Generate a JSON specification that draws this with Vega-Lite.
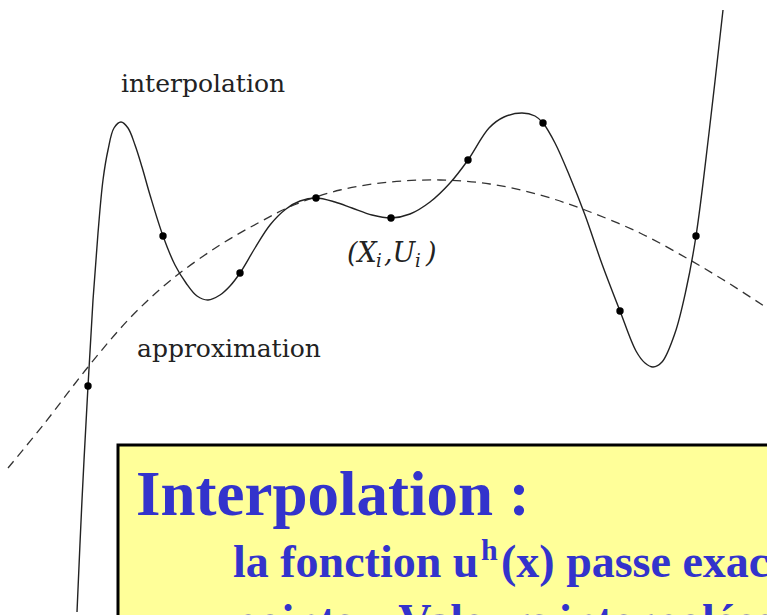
{
  "$schema": "https://vega.github.io/schema/vega-lite/v6.json",
  "width": 767,
  "height": 615,
  "autosize": {"type": "fit", "contains": "padding"},
  "padding": 0,
  "background": "white",
  "config": {"view": {"stroke": null}},
  "datasets": {
    "interp": [
      {"x": 77, "y": 612}, {"x": 82, "y": 500}, {"x": 88, "y": 386}, {"x": 93, "y": 300},
      {"x": 98, "y": 233}, {"x": 103, "y": 180}, {"x": 108, "y": 150}, {"x": 114, "y": 128},
      {"x": 121, "y": 122}, {"x": 128, "y": 128}, {"x": 135, "y": 145}, {"x": 142, "y": 167},
      {"x": 150, "y": 195}, {"x": 163, "y": 236}, {"x": 175, "y": 265}, {"x": 186, "y": 283},
      {"x": 197, "y": 296}, {"x": 208, "y": 300}, {"x": 220, "y": 295}, {"x": 230, "y": 286},
      {"x": 240, "y": 273}, {"x": 255, "y": 248}, {"x": 270, "y": 225}, {"x": 286, "y": 209},
      {"x": 300, "y": 201}, {"x": 316, "y": 198}, {"x": 335, "y": 202}, {"x": 352, "y": 208},
      {"x": 372, "y": 215}, {"x": 391, "y": 218}, {"x": 410, "y": 214}, {"x": 430, "y": 202},
      {"x": 450, "y": 183}, {"x": 468, "y": 160}, {"x": 489, "y": 128}, {"x": 504, "y": 117},
      {"x": 522, "y": 113}, {"x": 535, "y": 116}, {"x": 543, "y": 123}, {"x": 555, "y": 143},
      {"x": 570, "y": 177}, {"x": 585, "y": 215}, {"x": 602, "y": 264}, {"x": 620, "y": 311},
      {"x": 636, "y": 351}, {"x": 645, "y": 363}, {"x": 653, "y": 367}, {"x": 662, "y": 362},
      {"x": 675, "y": 333}, {"x": 686, "y": 290}, {"x": 696, "y": 236}, {"x": 709, "y": 133},
      {"x": 723, "y": 10}
    ],
    "approx": [
      {"x": 8, "y": 468}, {"x": 44, "y": 424}, {"x": 88, "y": 367}, {"x": 130, "y": 318},
      {"x": 171, "y": 280}, {"x": 220, "y": 245}, {"x": 260, "y": 222}, {"x": 294, "y": 205},
      {"x": 340, "y": 190}, {"x": 390, "y": 182}, {"x": 440, "y": 180}, {"x": 490, "y": 184},
      {"x": 540, "y": 195}, {"x": 585, "y": 210}, {"x": 640, "y": 233}, {"x": 690, "y": 260},
      {"x": 730, "y": 284}, {"x": 767, "y": 308}
    ],
    "nodes": [
      {"x": 88, "y": 386}, {"x": 163, "y": 236}, {"x": 240, "y": 273}, {"x": 316, "y": 198},
      {"x": 391, "y": 218}, {"x": 468, "y": 160}, {"x": 543, "y": 123}, {"x": 620, "y": 311},
      {"x": 696, "y": 236}
    ]
  },
  "encoding": {
    "x": {"field": "x", "type": "quantitative", "scale": {"domain": [0, 767], "nice": false, "zero": false}, "axis": null},
    "y": {"field": "y", "type": "quantitative", "scale": {"domain": [0, 615], "nice": false, "zero": false, "reverse": true}, "axis": null}
  },
  "layer": [
    {
      "data": {"name": "approx"},
      "mark": {"type": "line", "interpolate": "catmull-rom", "color": "#333333", "strokeWidth": 1.3, "strokeDash": [9, 6], "clip": true}
    },
    {
      "data": {"name": "interp"},
      "mark": {"type": "line", "interpolate": "catmull-rom", "color": "#222222", "strokeWidth": 1.4, "clip": true}
    },
    {
      "data": {"name": "nodes"},
      "mark": {"type": "circle", "color": "#000000", "opacity": 1, "size": 55}
    },
    {
      "data": {"values": [
        {"t": "interpolation", "x": 121, "y": 92},
        {"t": "approximation", "x": 137, "y": 357}
      ]},
      "mark": {"type": "text", "align": "left", "baseline": "alphabetic", "font": "DejaVu Serif", "fontSize": 25, "color": "#222222"},
      "encoding": {"text": {"field": "t"}}
    },
    {
      "data": {"values": [
        {"t": "(X", "x": 347, "y": 262},
        {"t": ",U", "x": 384, "y": 262},
        {"t": ")", "x": 426, "y": 262}
      ]},
      "mark": {"type": "text", "align": "left", "baseline": "alphabetic", "font": "DejaVu Serif", "fontStyle": "italic", "fontSize": 27, "color": "#222222"},
      "encoding": {"text": {"field": "t"}}
    },
    {
      "data": {"values": [
        {"t": "i", "x": 376, "y": 267},
        {"t": "i", "x": 415, "y": 267}
      ]},
      "mark": {"type": "text", "align": "left", "baseline": "alphabetic", "font": "DejaVu Serif", "fontStyle": "italic", "fontSize": 18, "color": "#222222"},
      "encoding": {"text": {"field": "t"}}
    },
    {
      "data": {"values": [{"x": 118, "x2": 800, "y": 445, "y2": 700}]},
      "mark": {"type": "rect", "fill": "#FFFF99", "stroke": "#000000", "strokeWidth": 3, "clip": true},
      "encoding": {
        "x2": {"field": "x2"},
        "y2": {"field": "y2"}
      }
    },
    {
      "data": {"values": [{"t": "Interpolation :", "x": 136, "y": 515}]},
      "mark": {"type": "text", "align": "left", "baseline": "alphabetic", "font": "Liberation Serif", "fontWeight": "bold", "fontSize": 63, "color": "#3333CC", "clip": true},
      "encoding": {"text": {"field": "t"}}
    },
    {
      "data": {"values": [
        {"t": "la fonction u", "x": 233, "y": 577},
        {"t": "(x) passe exactement par les", "x": 501, "y": 577},
        {"t": "points – Valeurs interpolées", "x": 233, "y": 636}
      ]},
      "mark": {"type": "text", "align": "left", "baseline": "alphabetic", "font": "Liberation Serif", "fontWeight": "bold", "fontSize": 46, "color": "#3333CC", "clip": true},
      "encoding": {"text": {"field": "t"}}
    },
    {
      "data": {"values": [{"t": "h", "x": 481, "y": 560}]},
      "mark": {"type": "text", "align": "left", "baseline": "alphabetic", "font": "Liberation Serif", "fontWeight": "bold", "fontSize": 30, "color": "#3333CC", "clip": true},
      "encoding": {"text": {"field": "t"}}
    }
  ]
}
